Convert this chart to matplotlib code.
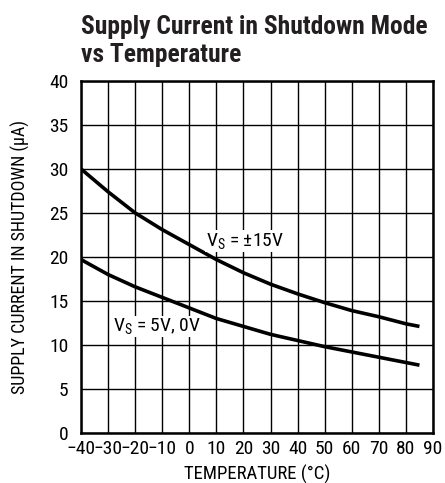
import matplotlib
matplotlib.use("Agg")
import matplotlib.pyplot as plt
from matplotlib import font_manager

names = {f.name for f in font_manager.fontManager.ttflist}
cands = ['Roboto Condensed', 'Archivo Narrow', 'PT Sans Narrow', 'Barlow Semi Condensed', 'Liberation Sans']
narrow = next(c for c in cands if c in names)
plt.rcParams['font.family'] = [narrow, 'DejaVu Sans']
plt.rcParams['mathtext.fontset'] = 'custom'
plt.rcParams['mathtext.rm'] = narrow
plt.rcParams['mathtext.default'] = 'regular'

temp = [-40, -30, -20, -10, 0, 10, 20, 30, 40, 50, 60, 70, 80, 85]
i_15v = [30.0, 27.4, 25.0, 23.1, 21.4, 19.7, 18.2, 16.9, 15.8, 14.8, 13.9, 13.2, 12.4, 12.1]
i_5v = [19.7, 18.0, 16.6, 15.4, 14.2, 13.0, 12.1, 11.2, 10.5, 9.8, 9.2, 8.6, 8.0, 7.7]
xticks = list(range(-40, 91, 10))
yticks = list(range(0, 41, 5))

fig = plt.figure(figsize=(4.45, 4.83), dpi=100)
ax = fig.add_axes([0.182, 0.1037, 0.791, 0.7288])
ax.plot(temp, i_15v, color='black', lw=2.6, solid_capstyle='butt', solid_joinstyle='round')
ax.plot(temp, i_5v, color='black', lw=2.6, solid_capstyle='butt', solid_joinstyle='round')
ax.set_xlim(-40, 90)
ax.set_ylim(0, 40)
ax.set_xticks(xticks)
ax.set_yticks(yticks)
ax.set_xticklabels([str(t).replace('-', '\u2212') for t in xticks], fontsize=14)
ax.set_yticklabels([str(t) for t in yticks], fontsize=14)
ax.tick_params(length=0, pad=5)
ax.tick_params(axis='y', pad=9)
ax.grid(True, color='black', lw=1.0)
for s in ax.spines.values():
    s.set_linewidth(1.8)
ax.set_xlabel('TEMPERATURE (°C)', fontsize=13.5, labelpad=5)
ax.set_ylabel('SUPPLY CURRENT IN SHUTDOWN (\u03bcA)', fontsize=13, labelpad=14)

ax.text(6.2, 21.8, r'$V_S$ = ±15V', fontsize=14, va='center', ha='left',
        bbox=dict(facecolor='white', edgecolor='none', pad=0.5))
ax.text(-28.1, 12.1, r'$V_S$ = 5V, 0V', fontsize=14, va='center', ha='left',
        bbox=dict(facecolor='white', edgecolor='none', pad=0.5))

fig.text(81/445, 1 - 62/483, 'Supply Current in Shutdown Mode\nvs Temperature',
         fontsize=18.4, fontweight='bold', ha='left', va='baseline', linespacing=1.2,
         color='#231f20')

fig.savefig('out.png', dpi=100)
